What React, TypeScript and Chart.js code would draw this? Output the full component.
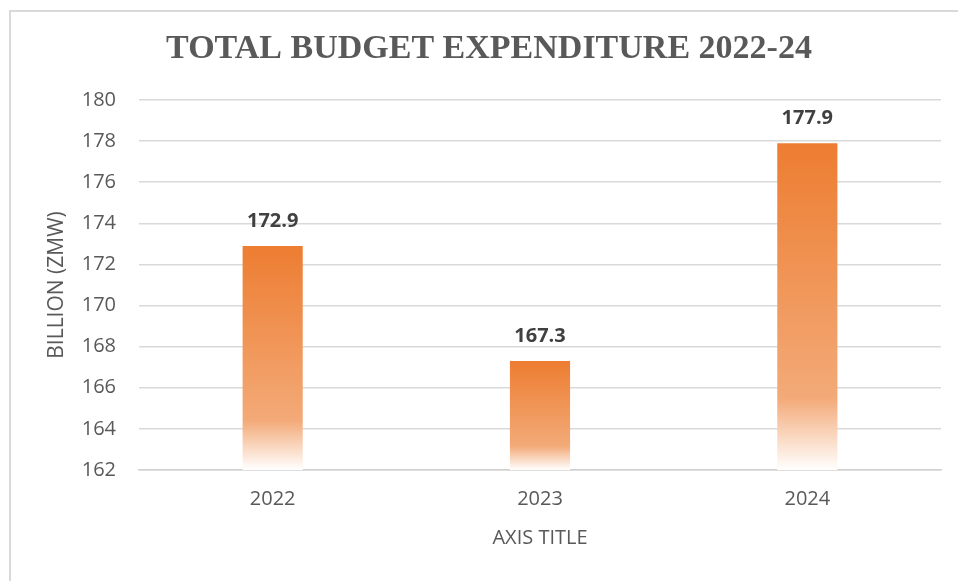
import React, { useEffect, useRef } from "react";
import { Chart, registerables } from "chart.js";

Chart.register(...registerables);

const TITLE = "TOTAL BUDGET EXPENDITURE 2022-24";
const categories = ["2022", "2023", "2024"];
const expenditure = [172.9, 167.3, 177.9];
const yMin = 162;
const yMax = 180;
const yStep = 2;
const yAxisTitle = "BILLION (ZMW)";
const xAxisTitle = "AXIS TITLE";

const FONT = "'Open Sans', 'Noto Sans', sans-serif";

const framePlugin = {
  id: "frame",
  beforeDraw(chart: any) {
    const c = chart.ctx;
    c.save();
    c.fillStyle = "#ffffff";
    c.fillRect(0, 0, chart.width, chart.height);
    c.strokeStyle = "#d9d9d9";
    c.lineWidth = 2;
    c.beginPath();
    c.moveTo(10, chart.height);
    c.lineTo(10, 11);
    c.lineTo(chart.width, 11);
    c.stroke();
    c.font = "bold 34px 'Liberation Serif', 'Times New Roman', serif";
    c.fillStyle = "#595959";
    c.textAlign = "center";
    c.textBaseline = "middle";
    c.fillText(TITLE, 489, 49);
    c.restore();
  },
};

const labelPlugin = {
  id: "barLabels",
  afterDatasetsDraw(chart: any) {
    const c = chart.ctx;
    const meta = chart.getDatasetMeta(0);
    c.save();
    c.font = `bold 20px ${FONT}`;
    c.fillStyle = "#404040";
    c.textAlign = "center";
    c.textBaseline = "middle";
    meta.data.forEach((el: any, i: number) => {
      c.fillText(expenditure[i].toFixed(1), el.x, el.y - 25);
    });
    c.restore();
  },
};

export default function App() {
  const ref = useRef<HTMLCanvasElement | null>(null);
  useEffect(() => {
    if (!ref.current) return;
    const chart = new Chart(ref.current, {
      type: "bar",
      data: {
        labels: categories,
        datasets: [
          {
            data: expenditure,
            backgroundColor: (ctx: any) => {
              const ch = ctx.chart;
              if (!ch.chartArea || ctx.type !== "data") return "#ED7D31";
              const ys = ch.scales.y;
              const top = ys.getPixelForValue(ctx.raw);
              const bottom = ys.getPixelForValue(yMin);
              if (!isFinite(top) || !isFinite(bottom) || bottom - top < 1) return "#ED7D31";
              const g = ch.ctx.createLinearGradient(0, top, 0, bottom);
              g.addColorStop(0, "rgb(237,125,49)");
              g.addColorStop(0.78, "rgb(243,170,120)");
              g.addColorStop(1, "rgb(255,255,255)");
              return g;
            },
            borderWidth: 0,
            barPercentage: 0.225,
            categoryPercentage: 1,
          },
        ],
      },
      options: {
        animation: false,
        responsive: true,
        maintainAspectRatio: false,
        layout: { padding: { left: 9, right: 17, top: 100, bottom: 0 } },
        plugins: {
          legend: { display: false },
          title: { display: false },
          tooltip: { enabled: false },
        },
        scales: {
          x: {
            grid: { display: false, drawTicks: false },
            border: { display: true, color: "#d0d0d0", width: 1.5 },
            ticks: { color: "#595959", font: { family: FONT, size: 20 }, padding: 17 },
            title: {
              display: true,
              text: xAxisTitle,
              color: "#595959",
              font: { family: FONT, size: 20 },
              padding: { top: 0, bottom: 31 },
            },
            afterFit: (s: any) => {
              s.height = 111;
            },
          },
          y: {
            min: yMin,
            max: yMax,
            grid: { color: "#d9d9d9", lineWidth: 1.5, drawTicks: false },
            border: { display: false },
            ticks: {
              stepSize: yStep,
              color: "#595959",
              font: { family: FONT, size: 20 },
              padding: 23,
            },
            title: {
              display: true,
              text: yAxisTitle,
              color: "#595959",
              font: { family: FONT, size: 21 },
              padding: { top: 35, bottom: 0 },
            },
            afterFit: (s: any) => {
              s.width = 130;
            },
          },
        },
      },
      plugins: [framePlugin, labelPlugin],
    });
    return () => chart.destroy();
  }, []);
  return (
    <div style={{ position: "fixed", left: 0, top: 0, width: 958, height: 581, background: "#fff" }}>
      <canvas ref={ref} />
    </div>
  );
}
